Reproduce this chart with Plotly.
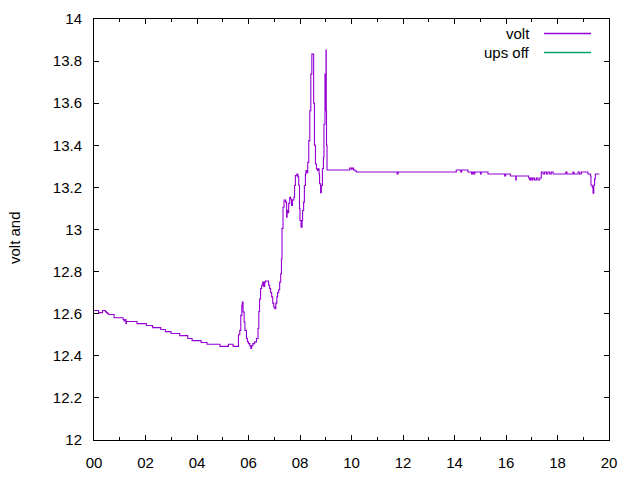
import plotly.graph_objects as go

# time of day in hours, battery voltage
hours = [
    0.00, 0.18, 0.33, 0.44, 0.48, 0.53, 0.57, 0.78, 1.13, 1.17, 1.22, 1.24, 1.26, 1.67,
    2.03, 2.27, 2.29, 2.59, 2.77, 2.99, 3.33, 3.64, 3.81, 4.16, 4.39, 4.89, 5.22, 5.40,
    5.61, 5.66, 5.70, 5.74, 5.76, 5.79, 5.83, 5.86, 5.92, 5.96, 6.00, 6.05, 6.09, 6.12,
    6.17, 6.24, 6.31, 6.37, 6.40, 6.43, 6.47, 6.51, 6.55, 6.59, 6.63, 6.66, 6.78, 6.82,
    6.86, 6.90, 6.94, 6.98, 7.02, 7.06, 7.10, 7.13, 7.17, 7.21, 7.25, 7.28, 7.30, 7.34,
    7.38, 7.42, 7.44, 7.48, 7.50, 7.53, 7.56, 7.60, 7.63, 7.67, 7.71, 7.76, 7.79, 7.82,
    7.88, 7.92, 7.95, 7.98, 8.00, 8.04, 8.08, 8.10, 8.14, 8.17, 8.21, 8.23, 8.27, 8.30,
    8.34, 8.38, 8.42, 8.46, 8.53, 8.56, 8.60, 8.64, 8.68, 8.71, 8.74, 8.76, 8.80, 8.83,
    8.87, 8.91, 8.93, 8.97, 9.00, 9.01, 9.02, 9.03, 9.05, 9.93, 9.99, 10.03, 10.08, 10.14,
    10.19, 11.77, 11.81, 14.07, 14.24, 14.28, 14.52, 14.66, 14.70, 14.75, 14.79, 15.01,
    15.04, 15.30, 15.95, 15.99, 16.17, 16.38, 16.40, 16.88, 16.92, 16.96, 17.01, 17.05,
    17.11, 17.18, 17.24, 17.31, 17.37, 17.44, 17.50, 17.57, 17.63, 17.70, 17.76, 17.83,
    18.32, 18.37, 18.60, 18.64, 18.80, 18.86, 18.93, 19.18, 19.28, 19.30, 19.35, 19.38,
    19.41, 19.44, 19.47, 19.63,
]
volts = [
    12.615, 12.605, 12.615, 12.610, 12.605, 12.600, 12.596, 12.581, 12.572, 12.565, 12.572, 12.553, 12.563, 12.553,
    12.544, 12.537, 12.534, 12.525, 12.515, 12.506, 12.496, 12.482, 12.472, 12.463, 12.455, 12.445, 12.455, 12.445,
    12.500, 12.521, 12.592, 12.640, 12.655, 12.608, 12.561, 12.521, 12.482, 12.466, 12.458, 12.447, 12.435, 12.447,
    12.458, 12.466, 12.482, 12.530, 12.610, 12.670, 12.720, 12.735, 12.750, 12.730, 12.750, 12.755, 12.735, 12.720,
    12.700, 12.680, 12.650, 12.632, 12.624, 12.650, 12.680, 12.700, 12.714, 12.750, 12.790, 12.860, 13.005, 13.106,
    13.140, 13.140, 13.130, 13.058, 13.090, 13.080, 13.125, 13.153, 13.145, 13.114, 13.140, 13.153, 13.209, 13.256,
    13.264, 13.250, 13.210, 13.100, 13.043, 13.011, 13.043, 13.090, 13.130, 13.209, 13.264, 13.280, 13.270, 13.319,
    13.422, 13.564, 13.738, 13.833, 13.600, 13.400, 13.311, 13.288, 13.280, 13.288, 13.264, 13.217, 13.175, 13.209,
    13.290, 13.343, 13.500, 13.738, 13.564, 13.852, 13.564, 13.400, 13.283, 13.292, 13.287, 13.292, 13.283, 13.278,
    13.273, 13.264, 13.273, 13.283, 13.273, 13.283, 13.273, 13.264, 13.273, 13.264, 13.273, 13.264,
    13.273, 13.264, 13.254, 13.264, 13.254, 13.235, 13.254, 13.245, 13.235, 13.245, 13.235, 13.245,
    13.235, 13.245, 13.235, 13.245, 13.273, 13.264, 13.273, 13.264, 13.273, 13.264, 13.273, 13.264,
    13.273, 13.264, 13.273, 13.264, 13.273, 13.264, 13.273, 13.264, 13.254, 13.210, 13.200, 13.172,
    13.210, 13.240, 13.264, 13.264,
]
ups_off_hours = []
ups_off_volts = []

x_tick_vals = [0, 2, 4, 6, 8, 10, 12, 14, 16, 18, 20]
x_tick_text = ["00", "02", "04", "06", "08", "10", "12", "14", "16", "18", "20"]
x_minor_vals = [1, 3, 5, 7, 9, 11, 13, 15, 17, 19]
y_tick_vals = [12, 12.2, 12.4, 12.6, 12.8, 13, 13.2, 13.4, 13.6, 13.8, 14]
y_tick_text = ["12", "12.2", "12.4", "12.6", "12.8", "13", "13.2", "13.4", "13.6", "13.8", "14"]

series_names = ["volt", "ups off"]
series_colors = ["#9400D3", "#009E73"]

FONT = dict(family="Liberation Sans, Arial, sans-serif", size=15, color="black")

fig = go.Figure()
fig.add_trace(go.Scatter(x=hours, y=volts, mode="lines", name=series_names[0],
                         line=dict(color=series_colors[0], width=1.1, shape="hv"),
                         showlegend=False))
fig.add_trace(go.Scatter(x=ups_off_hours, y=ups_off_volts, mode="lines", name=series_names[1],
                         line=dict(color=series_colors[1], width=1.1),
                         showlegend=False))

L, R, T, B = 94, 31, 19, 40
W, H = 640, 480
pw, ph = W - L - R, H - T - B

def px_x(px):
    return (px - L) / pw

def px_y(py):
    return (H - B - py) / ph

# gnuplot-style key: text right-aligned, sample line on the right
key_rows = [33.5, 52.5]
for name, color, py in zip(series_names, series_colors, key_rows):
    fig.add_annotation(xref="paper", yref="paper", x=px_x(532), y=px_y(py), text=name,
                       showarrow=False, xanchor="right", yanchor="middle", font=FONT)
    fig.add_shape(type="line", xref="paper", yref="paper", x0=px_x(544), x1=px_x(591),
                  y0=px_y(py), y1=px_y(py), line=dict(color=color, width=1.5))

fig.add_annotation(xref="paper", yref="paper", x=px_x(15), y=px_y(238), text="volt and",
                   textangle=-90, showarrow=False, xanchor="center", yanchor="middle", font=FONT)

axis_common = dict(showline=True, linecolor="black", linewidth=1, mirror="allticks",
                   ticks="inside", ticklen=5, tickcolor="black", tickwidth=1,
                   showgrid=False, zeroline=False, tickfont=FONT, automargin=False)

fig.update_layout(
    width=W, height=H,
    margin=dict(l=L, r=R, t=T, b=B, pad=0, autoexpand=False),
    paper_bgcolor="white", plot_bgcolor="white",
    font=FONT,
    xaxis=dict(range=[0, 20], tickmode="array", tickvals=x_tick_vals, ticktext=x_tick_text,
               minor=dict(tickmode="array", tickvals=x_minor_vals, ticks="inside", ticklen=3,
                          tickcolor="black", showgrid=False),
               ticklabelstandoff=9, **axis_common),
    yaxis=dict(range=[12, 14], tickmode="array", tickvals=y_tick_vals, ticktext=y_tick_text,
               ticklabelstandoff=8, **axis_common),
)

fig.write_html("out.html")
